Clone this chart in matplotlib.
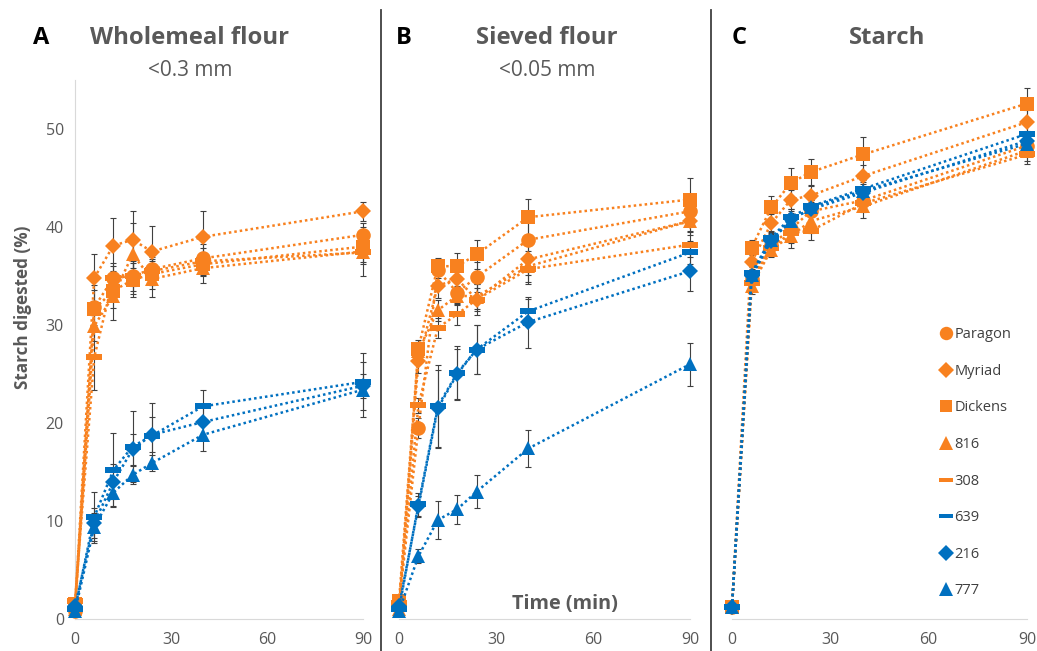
import numpy as np
import matplotlib
matplotlib.use("Agg")
import matplotlib.pyplot as plt
from matplotlib.lines import Line2D
from matplotlib.path import Path

plt.rcParams['font.family'] = ['Open Sans', 'DejaVu Sans']

# tiempos de muestreo (min)
tiempo = [0, 6, 12, 18, 24, 40, 90]

series = ['Paragon', 'Myriad', 'Dickens', '816', '308', '639', '216', '777']

# A - Wholemeal flour
A_vals = {
    'Paragon': [0.8, 31.8, 34.8, 35.0, 35.7, 36.8, 39.2],
    'Myriad':  [1.2, 34.8, 38.1, 38.7, 37.5, 39.0, 41.6],
    'Dickens': [1.5, 31.6, 33.5, 34.6, 35.2, 36.2, 38.0],
    '816':     [1.0, 29.9, 33.0, 37.2, 34.7, 35.8, 37.5],
    '308':     [1.8, 26.7, 34.8, 35.0, 35.5, 36.5, 37.4],
    '639':     [1.0, 10.4, 15.2, 17.6, 18.7, 21.7, 24.2],
    '216':     [1.3, 9.8, 14.0, 17.3, 18.8, 20.1, 23.8],
    '777':     [0.8, 9.4, 12.9, 14.7, 15.9, 18.8, 23.4],
}
A_err = {
    'Paragon': [0.3, 2.3, 1.5, 1.8, 1.6, 1.5, 1.2],
    'Myriad':  [0.3, 2.4, 2.8, 2.9, 2.6, 2.6, 1.0],
    'Dickens': [0.3, 2.0, 1.8, 1.7, 1.5, 1.2, 1.6],
    '816':     [0.3, 1.5, 2.5, 3.2, 1.8, 1.5, 2.5],
    '308':     [0.3, 3.3, 1.2, 1.5, 1.4, 1.4, 1.2],
    '639':     [0.3, 2.6, 3.8, 3.6, 3.3, 1.7, 2.9],
    '216':     [0.3, 1.5, 1.8, 1.6, 1.8, 1.6, 1.2],
    '777':     [0.3, 1.4, 1.4, 0.9, 0.8, 1.7, 2.8],
}

# B - Sieved flour
B_vals = {
    'Paragon': [1.5, 19.5, 35.6, 33.3, 34.9, 38.7, 41.6],
    'Myriad':  [1.2, 26.3, 34.0, 34.7, 32.6, 36.7, 40.6],
    'Dickens': [1.8, 27.6, 36.0, 36.0, 37.2, 41.0, 42.8],
    '816':     [1.0, 27.3, 31.5, 33.0, 32.9, 36.0, 40.6],
    '308':     [1.6, 21.8, 29.7, 31.1, 32.6, 35.7, 38.2],
    '639':     [1.0, 11.7, 21.7, 25.1, 27.5, 31.4, 37.4],
    '216':     [1.3, 11.5, 21.5, 25.0, 27.5, 30.3, 35.5],
    '777':     [0.8, 6.4, 10.1, 11.2, 13.0, 17.4, 26.0],
}
B_err = {
    'Paragon': [0.3, 1.0, 0.8, 1.2, 1.5, 1.9, 1.2],
    'Myriad':  [0.3, 1.2, 1.2, 1.3, 1.6, 1.6, 1.0],
    'Dickens': [0.3, 0.9, 0.8, 1.3, 1.5, 1.9, 2.2],
    '816':     [0.3, 1.0, 1.1, 1.0, 1.3, 1.6, 1.4],
    '308':     [0.3, 0.8, 1.0, 1.1, 1.2, 1.5, 1.3],
    '639':     [0.3, 1.2, 4.2, 2.8, 2.5, 1.3, 1.2],
    '216':     [0.3, 1.1, 3.9, 2.6, 2.5, 2.6, 2.0],
    '777':     [0.3, 0.7, 1.9, 1.5, 1.7, 1.9, 2.2],
}

# C - Starch
C_vals = {
    'Paragon': [1.2, 34.7, 38.2, 39.8, 41.6, 42.7, 48.3],
    'Myriad':  [1.2, 36.4, 40.4, 42.8, 43.2, 45.2, 50.7],
    'Dickens': [1.2, 37.9, 42.0, 44.5, 45.6, 47.4, 52.6],
    '816':     [1.2, 34.0, 37.7, 39.1, 40.6, 42.1, 47.8],
    '308':     [1.2, 34.3, 37.9, 39.4, 39.6, 42.4, 47.4],
    '639':     [1.2, 35.3, 38.9, 41.0, 42.1, 43.9, 49.5],
    '216':     [1.2, 35.0, 38.6, 40.8, 41.8, 43.5, 48.8],
    '777':     [1.2, 35.1, 38.7, 40.6, 42.0, 43.7, 48.5],
}
C_err = {
    'Paragon': [0.2, 0.8, 0.8, 1.0, 1.2, 1.0, 1.0],
    'Myriad':  [0.2, 0.8, 0.9, 1.0, 1.0, 1.1, 1.2],
    'Dickens': [0.2, 0.8, 1.2, 1.5, 1.3, 1.8, 1.6],
    '816':     [0.2, 0.8, 0.8, 1.2, 1.2, 1.2, 1.1],
    '308':     [0.2, 0.7, 0.8, 1.0, 0.9, 0.9, 1.0],
    '639':     [0.2, 0.6, 0.7, 0.8, 0.8, 0.9, 1.0],
    '216':     [0.2, 0.6, 0.7, 0.8, 0.8, 0.9, 1.0],
    '777':     [0.2, 0.6, 0.7, 0.8, 0.8, 0.9, 1.0],
}

naranja = '#F8811F'
azul = '#0070C0'
gris = '#595959'

guion = Path([(-1, -0.35), (1, -0.35), (1, 0.35), (-1, 0.35), (-1, -0.35)],
             [Path.MOVETO, Path.LINETO, Path.LINETO, Path.LINETO, Path.CLOSEPOLY])

estilo = {
    'Paragon': (naranja, 'o', 10.5),
    'Myriad':  (naranja, 'D', 8.5),
    'Dickens': (naranja, 's', 10),
    '816':     (naranja, '^', 10.5),
    '308':     (naranja, guion, 11),
    '639':     (azul, guion, 11),
    '216':     (azul, 'D', 8.5),
    '777':     (azul, '^', 10.5),
}

W, H = 1037, 651
fig = plt.figure(figsize=(W / 100, H / 100), dpi=100)


def caja(x0, x1, y0=80, y1=619):
    return [x0 / W, 1 - y1 / H, (x1 - x0) / W, (y1 - y0) / H]


axA = fig.add_axes(caja(75, 363))
axB = fig.add_axes(caja(399, 690))
axC = fig.add_axes(caja(732, 1027))

for ax, vals, errs in [(axA, A_vals, A_err), (axB, B_vals, B_err), (axC, C_vals, C_err)]:
    for s in series:
        col, mk, ms = estilo[s]
        ax.errorbar(tiempo, vals[s], yerr=errs[s], fmt='none', ecolor='#404040',
                    elinewidth=0.8, capsize=2.5, capthick=0.8, clip_on=False, zorder=2)
        ax.plot(tiempo, vals[s], color=col, linestyle=(0, (1, 1.2)), linewidth=1.8,
                marker=mk, markersize=ms, markeredgewidth=0, clip_on=False, zorder=3)
    ax.set_xlim(0, 90)
    ax.set_ylim(0, 55)
    ax.set_xticks([0, 30, 60, 90])
    ax.tick_params(length=0, labelsize=11.5, labelcolor=gris, pad=9)
    for lado in ['top', 'right']:
        ax.spines[lado].set_visible(False)
    ax.spines['bottom'].set_color('#D9D9D9')
    ax.spines['left'].set_color('#D9D9D9')
    ax.set_facecolor('none')

axA.set_yticks([0, 10, 20, 30, 40, 50])
axA.tick_params(axis='y', pad=8)
for ax in (axB, axC):
    ax.spines['left'].set_visible(False)
    ax.set_yticks([])

# separadores entre paneles
for xs in (381, 711):
    fig.add_artist(Line2D([xs / W, xs / W], [0, 1 - 10 / H], color='#404040', linewidth=1.3))

# titulos
for letra, xl, titulo, xt, sub in [('A', 41, 'Wholemeal flour', 190, '<0.3 mm'),
                                   ('B', 404, 'Sieved flour', 547, '<0.05 mm'),
                                   ('C', 739, 'Starch', 887, None)]:
    fig.text(xl / W, 1 - 38 / H, letra, fontsize=17, fontweight='bold', color='black',
             ha='center', va='center')
    fig.text(xt / W, 1 - 38 / H, titulo, fontsize=17.2, fontweight='bold', color=gris,
             ha='center', va='center')
    if sub:
        fig.text(xt / W, 1 - 70 / H, sub, fontsize=15, color=gris, ha='center', va='center')

fig.text(23 / W, 1 - 307 / H, 'Starch digested (%)', rotation=90, fontsize=12.3,
         fontweight='bold', color=gris, ha='center', va='center')
fig.text(565 / W, 1 - 604 / H, 'Time (min)', fontsize=14.3, fontweight='bold', color=gris,
         ha='center', va='center')

# leyenda solo con marcadores
handles = []
for s in series:
    col, mk, ms = estilo[s]
    handles.append(Line2D([], [], linestyle='none', marker=mk, markersize=ms * 0.92,
                          color=col, markeredgewidth=0, label=s))
fig.legend(handles=handles, loc='upper left', bbox_to_anchor=(932 / W, 1 - 320 / H),
           frameon=False, fontsize=10.5, labelspacing=1.48, handlelength=0.9,
           handletextpad=0.15, borderpad=0, labelcolor='#404040')

fig.savefig('out.png', dpi=100)
